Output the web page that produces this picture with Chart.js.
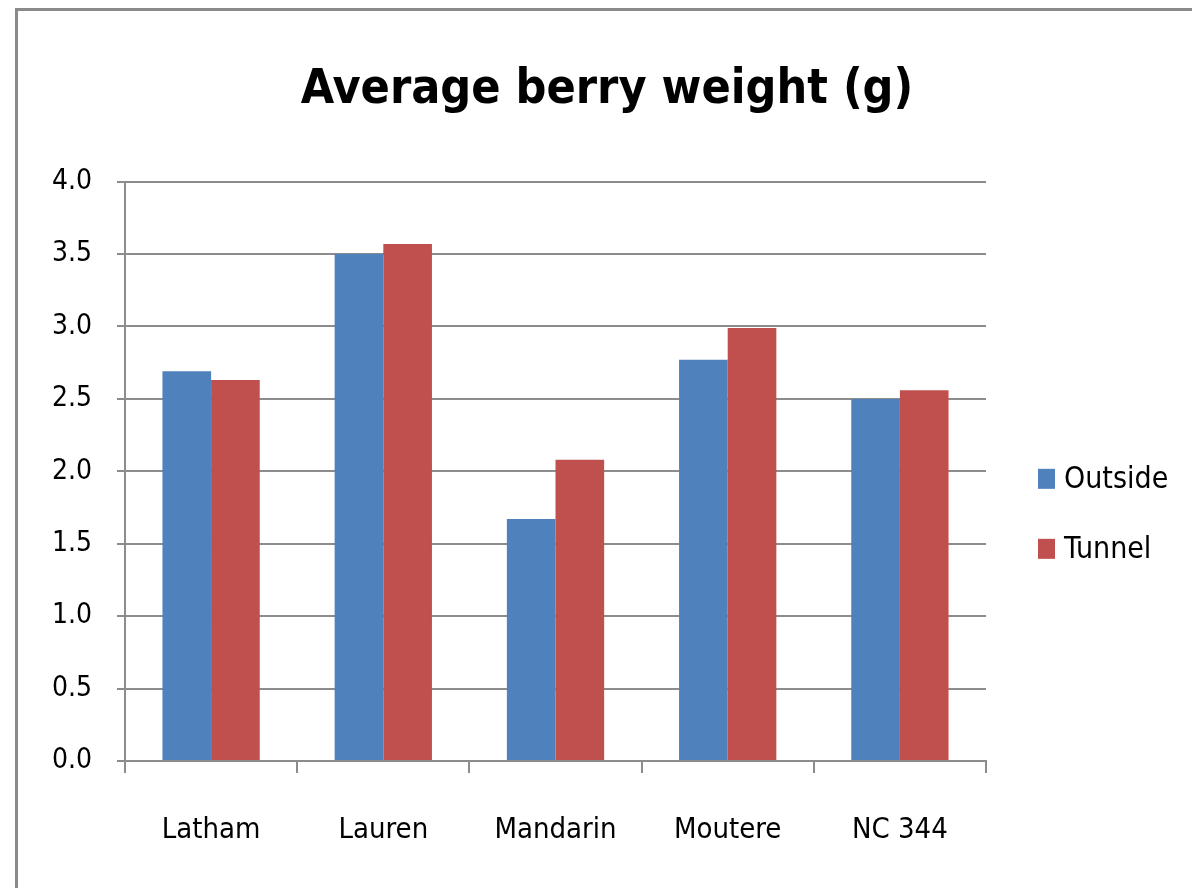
<!DOCTYPE html>
<html>
<head>
<meta charset="utf-8">
<script src="https://cdn.jsdelivr.net/npm/chart.js@4"></script>
<style>
  html, body { margin: 0; padding: 0; background: #fff; overflow: hidden; }
  #wrap { position: relative; width: 1192px; height: 888px; }
  #frame { position: absolute; left: 15px; top: 8px; width: 1300px; height: 1000px; border: 3px solid #8a8a8a; }
  #chart { position: absolute; left: 0; top: 0; }
</style>
</head>
<body>
<div id="wrap">
  <div id="frame"></div>
  <canvas id="chart" width="1192" height="888"></canvas>
</div>
<script>
const varieties = ['Latham', 'Lauren', 'Mandarin', 'Moutere', 'NC 344'];
const outsideWeight = [2.69, 3.50, 1.67, 2.77, 2.50];
const tunnelWeight = [2.63, 3.57, 2.08, 2.99, 2.56];
const seriesNames = ['Outside', 'Tunnel'];
const seriesColors = ['#4F81BD', '#C0504D'];

const fontFamily = "'Liberation Sans Narrow', 'DejaVu Sans Condensed', 'Open Sans', sans-serif";
const gridColor = '#8c8c8c';

// legend drawn beside the plot, like the spreadsheet one
const sideLegend = {
  id: 'sideLegend',
  afterDraw(chart) {
    const { ctx, chartArea } = chart;
    const h = chartArea.bottom - chartArea.top;
    ctx.save();
    ctx.font = '30px ' + fontFamily;
    ctx.textBaseline = 'middle';
    chart.data.datasets.forEach((ds, i) => {
      const cy = chartArea.top + h * 0.513 + i * 70;
      const bx = chartArea.right + 52;
      ctx.fillStyle = ds.backgroundColor;
      ctx.fillRect(bx, cy - 10, 17, 20);
      ctx.fillStyle = '#000';
      ctx.fillText(ds.label, bx + 26, cy + 1);
    });
    ctx.restore();
  }
};

new Chart(document.getElementById('chart'), {
  type: 'bar',
  data: {
    labels: varieties,
    datasets: [
      { label: seriesNames[0], data: outsideWeight, backgroundColor: seriesColors[0] },
      { label: seriesNames[1], data: tunnelWeight, backgroundColor: seriesColors[1] }
    ]
  },
  options: {
    responsive: false,
    animation: false,
    categoryPercentage: 0.565,
    barPercentage: 1,
    layout: { padding: { left: 22, right: 0, top: 0, bottom: 0 } },
    scales: {
      x: {
        grid: { drawOnChartArea: false, drawTicks: true, tickLength: 12, color: gridColor, lineWidth: 2 },
        border: { color: gridColor, width: 2 },
        ticks: { color: '#000', padding: 40, font: { family: fontFamily, size: 29 } },
        afterFit: (s) => { s.height = 127; }
      },
      y: {
        min: 0,
        max: 4,
        grid: { color: gridColor, lineWidth: 2, tickLength: 8 },
        border: { color: gridColor, width: 2 },
        ticks: {
          stepSize: 0.5,
          color: '#000',
          padding: 25,
          font: { family: fontFamily, size: 28 },
          callback: (v) => v.toFixed(1)
        },
        afterFit: (s) => { s.width = 103; }
      },
      legendSpace: {
        position: 'right',
        display: true,
        grid: { display: false },
        border: { display: false },
        ticks: { display: false },
        afterFit: (s) => { s.width = 206; }
      }
    },
    plugins: {
      legend: { display: false },
      tooltip: { enabled: false },
      title: {
        display: true,
        text: 'Average berry weight (g)',
        color: '#000',
        font: { family: fontFamily, size: 48, weight: 'bold', lineHeight: 1.2 },
        padding: { top: 62, bottom: 62 }
      }
    }
  },
  plugins: [sideLegend]
});
</script>
</body>
</html>
